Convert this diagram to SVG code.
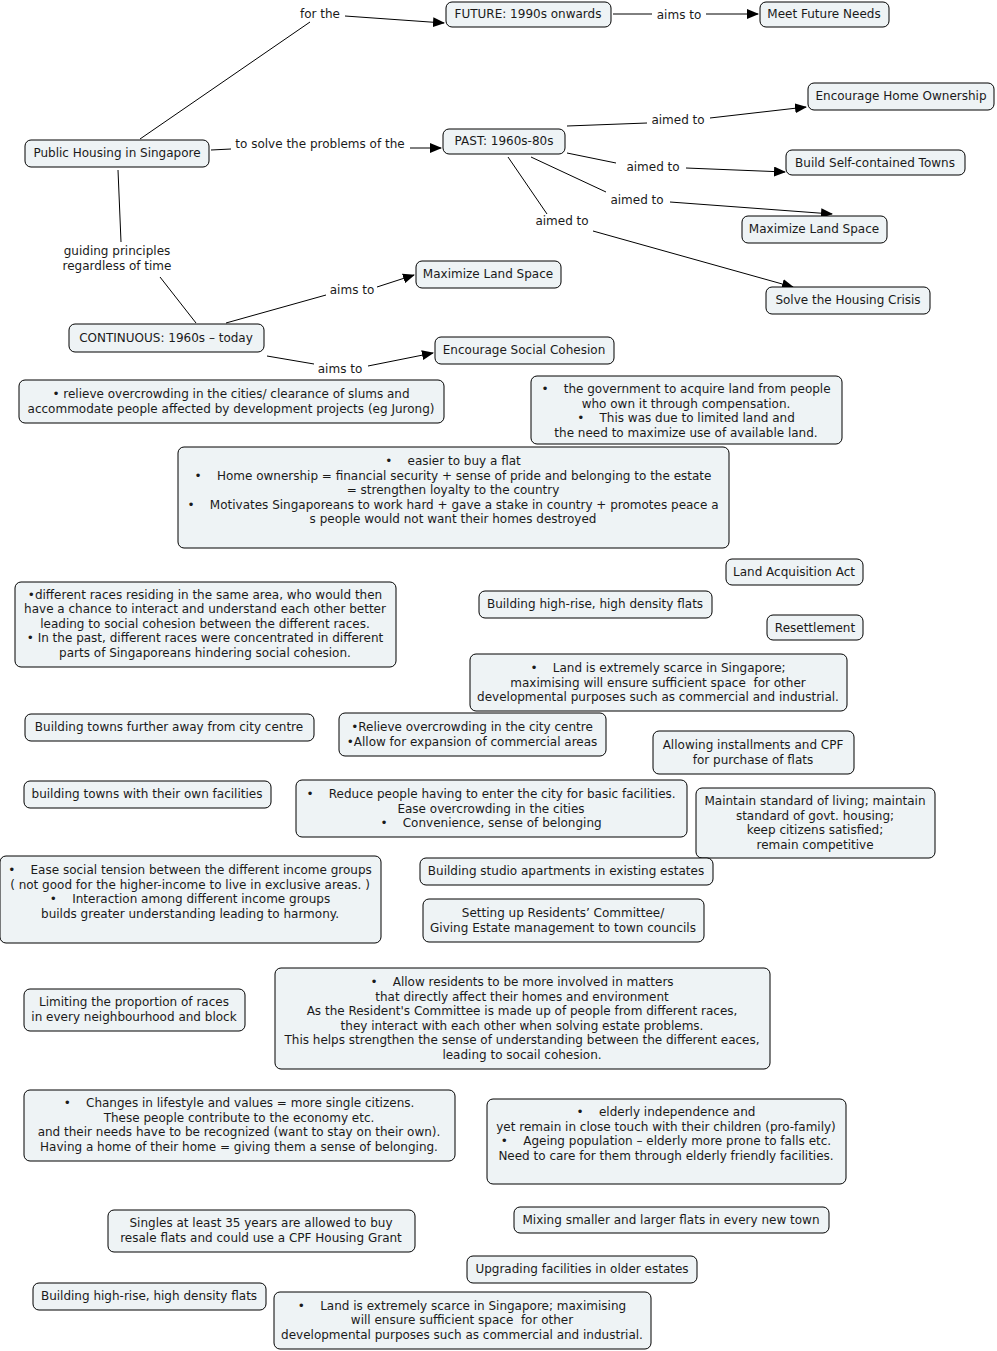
<svg xmlns="http://www.w3.org/2000/svg" width="997" height="1351" viewBox="0 0 997 1351">
<style>
text{font-family:"DejaVu Sans",Verdana,sans-serif;font-size:12px;fill:#1a1a1a;text-anchor:middle;white-space:pre}
.n rect{fill:#eef3f5;stroke:#000;stroke-width:1}
.c line{stroke:#000;stroke-width:1}
</style>
<defs>
<marker id="a" markerUnits="userSpaceOnUse" markerWidth="12" markerHeight="10" refX="11" refY="5" orient="auto"><path d="M0,0 L12,5 L0,10 z" fill="#000"/></marker>
</defs>
<rect width="997" height="1351" fill="#fff"/>
<g class="c" id="connectors">
<line x1="140" y1="139" x2="310" y2="22"/>
<line x1="345" y1="16" x2="444" y2="23" marker-end="url(#a)"/>
<line x1="211" y1="150" x2="231" y2="149"/>
<line x1="410" y1="148" x2="441" y2="148" marker-end="url(#a)"/>
<line x1="613" y1="14" x2="652" y2="14"/>
<line x1="706" y1="14" x2="758" y2="14" marker-end="url(#a)"/>
<line x1="567" y1="126" x2="647" y2="123"/>
<line x1="710" y1="118" x2="806" y2="107" marker-end="url(#a)"/>
<line x1="567" y1="153" x2="616" y2="163"/>
<line x1="686" y1="168" x2="785" y2="172" marker-end="url(#a)"/>
<line x1="531" y1="157" x2="606" y2="192"/>
<line x1="670" y1="202" x2="832" y2="214" marker-end="url(#a)"/>
<line x1="508" y1="157" x2="547" y2="214"/>
<line x1="593" y1="231" x2="793" y2="287" marker-end="url(#a)"/>
<line x1="118" y1="170" x2="121" y2="242"/>
<line x1="160" y1="277" x2="196" y2="323"/>
<line x1="226" y1="323" x2="326" y2="295"/>
<line x1="377" y1="287" x2="414" y2="275" marker-end="url(#a)"/>
<line x1="267" y1="356" x2="314" y2="364"/>
<line x1="368" y1="366" x2="433" y2="353" marker-end="url(#a)"/>
</g>
<g id="labels">
<text x="320" y="18">for the</text>
<text x="320" y="148">to solve the problems of the</text>
<text x="679" y="19">aims to</text>
<text x="678" y="124">aimed to</text>
<text x="653" y="171">aimed to</text>
<text x="637" y="204">aimed to</text>
<text x="562" y="225">aimed to</text>
<text x="117" y="255">guiding principles</text>
<text x="117" y="270">regardless of time</text>
<text x="352" y="294">aims to</text>
<text x="340" y="373">aims to</text>
</g>
<g class="n" id="n1"><rect x="25" y="140" width="184" height="27" rx="6"/><text x="117" y="157">Public Housing in Singapore</text></g>
<g class="n" id="n2"><rect x="446" y="2" width="165" height="25" rx="6"/><text x="528" y="18">FUTURE: 1990s onwards</text></g>
<g class="n" id="n3"><rect x="760" y="2" width="129" height="25" rx="6"/><text x="824" y="18">Meet Future Needs</text></g>
<g class="n" id="n4"><rect x="443" y="129" width="122" height="25" rx="6"/><text x="504" y="145">PAST: 1960s-80s</text></g>
<g class="n" id="n5"><rect x="808" y="83" width="186" height="27" rx="6"/><text x="901" y="100">Encourage Home Ownership</text></g>
<g class="n" id="n6"><rect x="786" y="150" width="179" height="25" rx="6"/><text x="875" y="167">Build Self-contained Towns</text></g>
<g class="n" id="n7"><rect x="742" y="216" width="145" height="27" rx="6"/><text x="814" y="233">Maximize Land Space</text></g>
<g class="n" id="n8"><rect x="766" y="287" width="164" height="27" rx="6"/><text x="848" y="304">Solve the Housing Crisis</text></g>
<g class="n" id="n9"><rect x="416" y="261" width="145" height="27" rx="6"/><text x="488" y="278">Maximize Land Space</text></g>
<g class="n" id="n10"><rect x="69" y="324" width="195" height="28" rx="6"/><text x="166" y="342">CONTINUOUS: 1960s – today</text></g>
<g class="n" id="n11"><rect x="435" y="337" width="179" height="27" rx="6"/><text x="524" y="354">Encourage Social Cohesion</text></g>
<g class="n" id="n12"><rect x="19" y="380" width="425" height="43" rx="6"/><text x="231" y="398">• relieve overcrowding in the cities/ clearance of slums and</text><text x="231" y="413">accommodate people affected by development projects (eg Jurong)</text></g>
<g class="n" id="n13"><rect x="531" y="376" width="311" height="68" rx="6"/><text x="686" y="393">•    the government to acquire land from people</text><text x="686" y="408">who own it through compensation.</text><text x="686" y="422">•    This was due to limited land and</text><text x="686" y="437">the need to maximize use of available land.</text></g>
<g class="n" id="n14"><rect x="178" y="447" width="551" height="101" rx="6"/><text x="453" y="465">•    easier to buy a flat</text><text x="453" y="480">•    Home ownership = financial security + sense of pride and belonging to the estate</text><text x="453" y="494">= strengthen loyalty to the country</text><text x="453" y="509">•    Motivates Singaporeans to work hard + gave a stake in country + promotes peace a</text><text x="453" y="523">s people would not want their homes destroyed</text></g>
<g class="n" id="n15"><rect x="15" y="582" width="381" height="85" rx="6"/><text x="205" y="599">•different races residing in the same area, who would then</text><text x="205" y="613">have a chance to interact and understand each other better</text><text x="205" y="628">leading to social cohesion between the different races.</text><text x="205" y="642">• In the past, different races were concentrated in different</text><text x="205" y="657">parts of Singaporeans hindering social cohesion.</text></g>
<g class="n" id="n16"><rect x="726" y="559" width="137" height="26" rx="6"/><text x="794" y="576">Land Acquisition Act</text></g>
<g class="n" id="n17"><rect x="479" y="591" width="233" height="27" rx="6"/><text x="595" y="608">Building high-rise, high density flats</text></g>
<g class="n" id="n18"><rect x="767" y="615" width="96" height="25" rx="6"/><text x="815" y="632">Resettlement</text></g>
<g class="n" id="n19"><rect x="470" y="654" width="377" height="57" rx="6"/><text x="658" y="672">•    Land is extremely scarce in Singapore;</text><text x="658" y="687">maximising will ensure sufficient space  for other</text><text x="658" y="701">developmental purposes such as commercial and industrial.</text></g>
<g class="n" id="n20"><rect x="25" y="714" width="289" height="27" rx="6"/><text x="169" y="731">Building towns further away from city centre</text></g>
<g class="n" id="n21"><rect x="339" y="713" width="267" height="43" rx="6"/><text x="472" y="731">•Relieve overcrowding in the city centre</text><text x="472" y="746">•Allow for expansion of commercial areas</text></g>
<g class="n" id="n22"><rect x="653" y="731" width="201" height="43" rx="6"/><text x="753" y="749">Allowing installments and CPF</text><text x="753" y="764">for purchase of flats</text></g>
<g class="n" id="n23"><rect x="24" y="781" width="247" height="27" rx="6"/><text x="147" y="798">building towns with their own facilities</text></g>
<g class="n" id="n24"><rect x="296" y="780" width="391" height="57" rx="6"/><text x="491" y="798">•    Reduce people having to enter the city for basic facilities.</text><text x="491" y="813">Ease overcrowding in the cities</text><text x="491" y="827">•    Convenience, sense of belonging</text></g>
<g class="n" id="n25"><rect x="696" y="788" width="239" height="70" rx="6"/><text x="815" y="805">Maintain standard of living; maintain</text><text x="815" y="820">standard of govt. housing;</text><text x="815" y="834">keep citizens satisfied;</text><text x="815" y="849">remain competitive</text></g>
<g class="n" id="n26"><rect x="0" y="856" width="381" height="87" rx="6"/><text x="190" y="874">•    Ease social tension between the different income groups</text><text x="190" y="889">( not good for the higher-income to live in exclusive areas. )</text><text x="190" y="903">•    Interaction among different income groups</text><text x="190" y="918">builds greater understanding leading to harmony.</text></g>
<g class="n" id="n27"><rect x="420" y="858" width="293" height="27" rx="6"/><text x="566" y="875">Building studio apartments in existing estates</text></g>
<g class="n" id="n28"><rect x="423" y="899" width="281" height="43" rx="6"/><text x="563" y="917">Setting up Residents’ Committee/</text><text x="563" y="932">Giving Estate management to town councils</text></g>
<g class="n" id="n29"><rect x="24" y="989" width="221" height="42" rx="6"/><text x="134" y="1006">Limiting the proportion of races</text><text x="134" y="1021">in every neighbourhood and block</text></g>
<g class="n" id="n30"><rect x="275" y="968" width="495" height="101" rx="6"/><text x="522" y="986">•    Allow residents to be more involved in matters</text><text x="522" y="1001">that directly affect their homes and environment</text><text x="522" y="1015">As the Resident's Committee is made up of people from different races,</text><text x="522" y="1030">they interact with each other when solving estate problems.</text><text x="522" y="1044">This helps strengthen the sense of understanding between the different eaces,</text><text x="522" y="1059">leading to socail cohesion.</text></g>
<g class="n" id="n31"><rect x="24" y="1090" width="431" height="71" rx="6"/><text x="239" y="1107">•    Changes in lifestyle and values = more single citizens.</text><text x="239" y="1122">These people contribute to the economy etc.</text><text x="239" y="1136">and their needs have to be recognized (want to stay on their own).</text><text x="239" y="1151">Having a home of their home = giving them a sense of belonging.</text></g>
<g class="n" id="n32"><rect x="487" y="1099" width="359" height="85" rx="6"/><text x="666" y="1116">•    elderly independence and</text><text x="666" y="1131">yet remain in close touch with their children (pro-family)</text><text x="666" y="1145">•    Ageing population – elderly more prone to falls etc.</text><text x="666" y="1160">Need to care for them through elderly friendly facilities.</text></g>
<g class="n" id="n33"><rect x="108" y="1210" width="307" height="42" rx="6"/><text x="261" y="1227">Singles at least 35 years are allowed to buy</text><text x="261" y="1242">resale flats and could use a CPF Housing Grant</text></g>
<g class="n" id="n34"><rect x="514" y="1207" width="315" height="26" rx="6"/><text x="671" y="1224">Mixing smaller and larger flats in every new town</text></g>
<g class="n" id="n35"><rect x="467" y="1256" width="230" height="27" rx="6"/><text x="582" y="1273">Upgrading facilities in older estates</text></g>
<g class="n" id="n36"><rect x="33" y="1283" width="233" height="27" rx="6"/><text x="149" y="1300">Building high-rise, high density flats</text></g>
<g class="n" id="n37"><rect x="274" y="1292" width="377" height="57" rx="6"/><text x="462" y="1310">•    Land is extremely scarce in Singapore; maximising</text><text x="462" y="1324">will ensure sufficient space  for other</text><text x="462" y="1339">developmental purposes such as commercial and industrial.</text></g>
</svg>
